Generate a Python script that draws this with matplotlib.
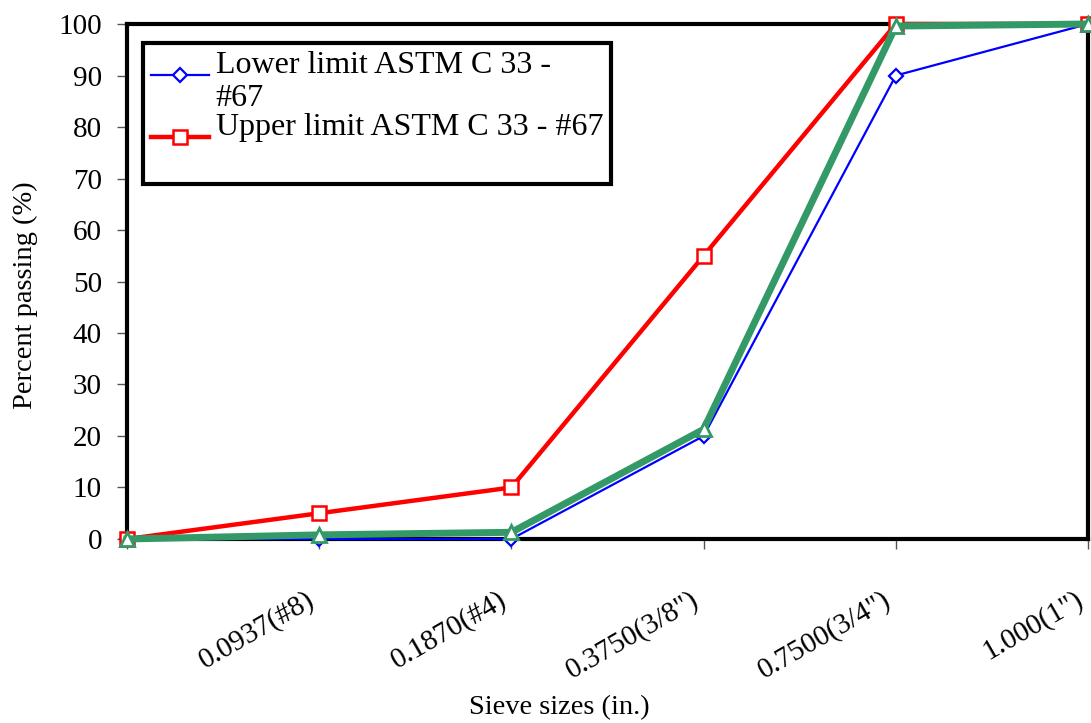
import numpy as np
import matplotlib
matplotlib.use("Agg")
import matplotlib.pyplot as plt
from matplotlib.legend_handler import HandlerLine2D
from matplotlib.transforms import ScaledTranslation

# Gradation data (percent passing per sieve)
sieves = ["", "0.0937(#8)", "0.1870(#4)", "0.3750(3/8\")", "0.7500(3/4\")", "1.000(1\")"]
lower_limit = [0, 0, 0, 20, 90, 100]
upper_limit = [0, 5, 10, 55, 100, 100]
aggregate = [0, 0.8, 1.3, 21.3, 99.6, 100]

plt.rcParams["font.family"] = ["Liberation Serif", "DejaVu Serif"]


class TopLineHandler(HandlerLine2D):
    # put the sample line next to the first line of a two-line label
    def create_artists(self, legend, orig_handle, xdescent, ydescent,
                       width, height, fontsize, trans):
        artists = super().create_artists(legend, orig_handle, xdescent, ydescent,
                                         width, height, fontsize, trans)
        for a in artists:
            a.set_ydata(np.asarray(a.get_ydata()) + height * 0.33)
        return artists


fig = plt.figure(figsize=(10.91, 7.23), dpi=100)
ax = fig.add_axes([0.1164, 0.2545, 0.8809, 0.7123])

x = np.arange(len(sieves))

lo, = ax.plot(x, lower_limit, color="#0000ff", lw=1.6, marker="D", ms=7.5,
              mfc="white", mec="#0000ff", mew=1.6, clip_on=False, zorder=3)
up, = ax.plot(x, upper_limit, color="#ff0000", lw=3.2, marker="s", ms=10.5,
              mfc="white", mec="#ff0000", mew=1.8, clip_on=False, zorder=4)
ax.plot(x, aggregate, color="#339966", lw=5, marker="^", ms=10,
        mfc="white", mec="#339966", mew=2, clip_on=False, zorder=5)

ax.set_xlim(0, 5)
ax.set_ylim(0, 100)
ax.set_yticks(np.arange(0, 101, 10))
ax.set_xticks(x)
ax.set_xticklabels(sieves, rotation=30, ha="right", va="top", fontsize=21)
shift = ScaledTranslation(-0.10, 0, fig.dpi_scale_trans)
for lab in ax.get_xticklabels():
    lab.set_transform(lab.get_transform() + shift)

for s in ax.spines.values():
    s.set_linewidth(3)
    s.set_color("black")

ax.tick_params(axis="y", labelsize=21, length=7, width=1, color="#555555", pad=11)
ax.tick_params(axis="x", length=7, width=1, color="#555555", pad=27)

ax.set_xlabel("Sieve sizes (in.)", fontsize=20.5)
ax.xaxis.set_label_coords(0.4495, -0.303)
ax.set_ylabel("Percent passing (%)", fontsize=20.5)
ax.yaxis.set_label_coords(-0.0926, 0.474)

leg = ax.legend([lo, up], ["Lower limit ASTM C 33 -\n#67", "Upper limit ASTM C 33 - #67\n"],
                loc="upper left", bbox_to_anchor=(0.017, 0.963),
                fontsize=23, frameon=True, fancybox=False, framealpha=1,
                borderpad=0.25, handlelength=1.8, handletextpad=0.22,
                labelspacing=0.0, borderaxespad=0,
                handler_map={lo: TopLineHandler(), up: TopLineHandler()})
leg.get_frame().set_edgecolor("black")
leg.get_frame().set_linewidth(3)

fig.savefig("out.png", dpi=100)
